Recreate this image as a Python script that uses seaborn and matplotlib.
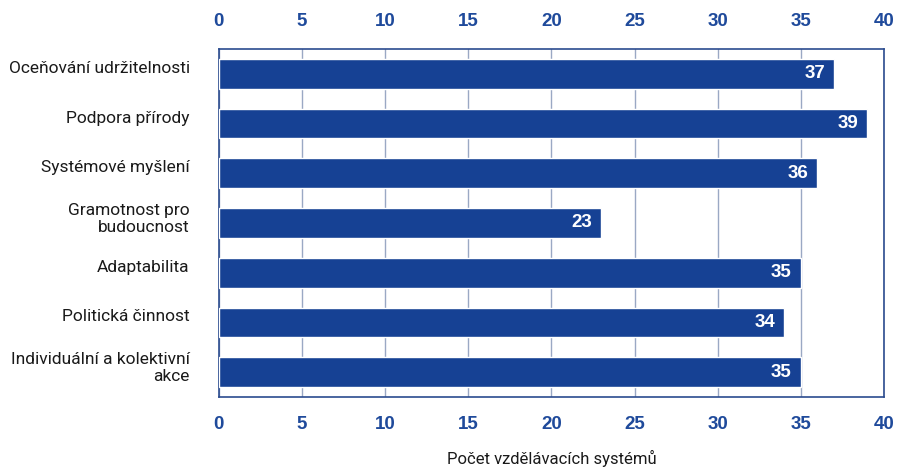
import seaborn as sns
import pandas as pd
import matplotlib.pyplot as plt
import matplotlib.transforms as mtransforms

# data
categories = ['Oceňování udržitelnosti', 'Podpora přírody', 'Systémové myšlení',
              'Gramotnost pro\nbudoucnost', 'Adaptabilita', 'Politická činnost',
              'Individuální a kolektivní\nakce']
values = [37, 39, 36, 23, 35, 34, 35]
xticks = [0, 5, 10, 15, 20, 25, 30, 35, 40]

df = pd.DataFrame({'kat': categories, 'pocet': values})

bar_col = '#164194'
tick_col = '#1f4a9b'

sns.set_theme(style='white')
plt.rcParams['font.family'] = ['Roboto', 'DejaVu Sans']

fig = plt.figure(figsize=(8.97, 4.73), dpi=100)
ax = fig.add_axes([0.244, 0.1607, 0.7415, 0.7357])

sns.barplot(data=df, x='pocet', y='kat', color=bar_col, saturation=1,
            width=0.6, orient='h', ax=ax, zorder=3)

ax.set_xlim(0, 40)
ax.set_xticks(xticks)
ax.grid(axis='x', color='#9aa8c4', linewidth=1, zorder=0)
ax.set_axisbelow(True)
for s in ax.spines.values():
    s.set_color('#2b4c8f')
    s.set_linewidth(1.2)

ax.tick_params(axis='x', top=True, labeltop=True, bottom=True, labelbottom=True,
               length=0, pad=14)
for lab in ax.get_xticklabels():
    lab.set_family(['Liberation Sans', 'DejaVu Sans'])
    lab.set_fontweight('bold')
    lab.set_fontsize(13.5)
    lab.set_color(tick_col)

ax.tick_params(axis='y', length=0, pad=21, labelsize=12.5)
off = mtransforms.ScaledTranslation(0, 5 / 72, fig.dpi_scale_trans)
for lab in ax.get_yticklabels():
    lab.set_color('#1a1a1a')
    lab.set_transform(lab.get_transform() + off)

ax.set_ylabel('')
ax.set_xlabel('Počet vzdělávacích systémů', fontsize=12, color='#1a1a1a', labelpad=12)

# hodnoty v pruzích
for i, v in enumerate(values):
    ax.text(v - 0.55, i, str(v), ha='right', va='center', color='white',
            fontsize=13.5, fontweight='bold', family=['Liberation Sans', 'DejaVu Sans'],
            zorder=4)

plt.savefig('out.png', dpi=100)
